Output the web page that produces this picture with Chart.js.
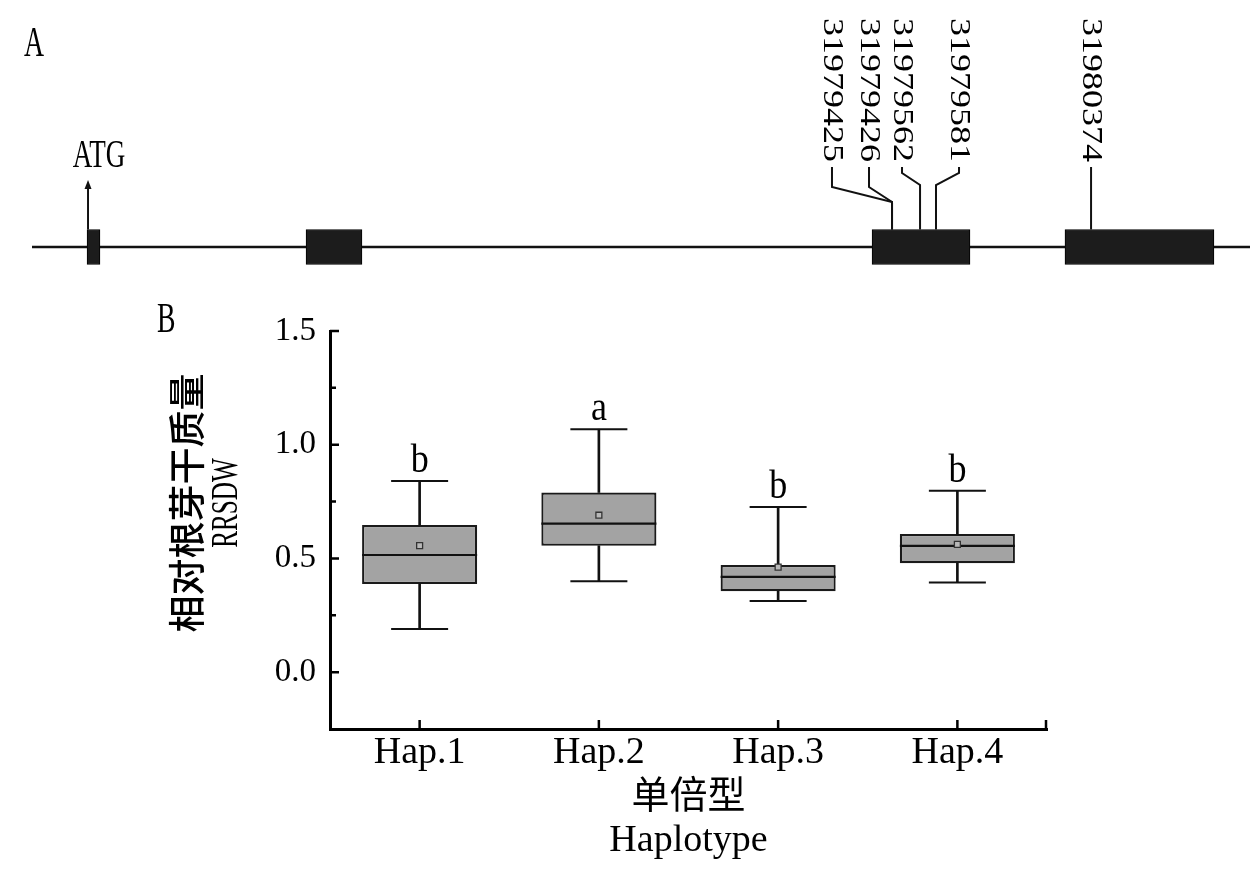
<!DOCTYPE html>
<html>
<head>
<meta charset="utf-8">
<title>RRSDW haplotypes</title>
<script src="https://cdn.jsdelivr.net/npm/chart.js@4.4.1/dist/chart.umd.min.js"></script>
<style>
  html, body { margin: 0; padding: 0; background: #fff; }
  #wrap { position: relative; width: 1260px; height: 880px; background: #fff; }
  #gene { position: absolute; left: 0; top: 0; }
  #box { position: absolute; left: 0; top: 290px; }
</style>
</head>
<body>
<div id="wrap">
  <canvas id="gene" width="1260" height="290"></canvas>
  <canvas id="box" width="1260" height="590"></canvas>
</div>
<script>
// ---- panel A: gene model (schematic units 0..1000) ----
var geneSpan = [0, 1000];
var exonStart = [45.2, 225.0, 689.7, 848.1];
var exonEnd = [55.8, 270.9, 770.1, 970.4];
var atgPos = 46;
var snpIds = ['31979425', '31979426', '31979562', '31979581', '31980374'];
var snpPos = [706.1, 706.1, 729.1, 742.2, 869.5];

// ---- panel B: box plot ----
var haplotypes = ['Hap.1', 'Hap.2', 'Hap.3', 'Hap.4'];
var whiskerLow = [0.19, 0.40, 0.313, 0.394];
var q1 = [0.388, 0.556, 0.356, 0.479];
var median = [0.515, 0.653, 0.419, 0.555];
var q3 = [0.647, 0.790, 0.471, 0.607];
var whiskerHigh = [0.840, 1.068, 0.726, 0.798];
var mean = [0.556, 0.690, 0.462, 0.562];
var groupLetters = ['b', 'a', 'b', 'b'];
var yTicks = [0.0, 0.5, 1.0, 1.5];
var yMinorTicks = [0.25, 0.75, 1.25];

// layout of the SNP labels (label slot in schematic units, elbow heights in px)
var snpLabelSlot = [656.8, 687.2, 714.3, 761.1, 869.5];
var snpElbow = [[202, 187], [202, 187], [185, 173], [185, 173], null];

var SERIF = "'Liberation Serif', 'Times New Roman', serif";
var CJK = "'Noto Sans CJK SC', sans-serif";

function squeezedText(ctx, text, x, y, angle, sx, sy, font, align, base)
{
    ctx.save();
    ctx.translate(x, y);
    ctx.rotate(angle);
    ctx.scale(sx, sy);
    ctx.font = font;
    ctx.fillStyle = '#000';
    ctx.textAlign = align;
    ctx.textBaseline = base;
    ctx.fillText(text, 0, 0);
    ctx.restore();
}

var genePlugin = {
    id: 'genePlugin',
    beforeDatasetsDraw: function(chart)
    {
        var ctx = chart.ctx;
        var xs = chart.scales.x, ys = chart.scales.y;
        var yc = ys.getPixelForValue(0);
        ctx.save();
        ctx.strokeStyle = '#111';
        ctx.lineWidth = 2.5;
        ctx.beginPath();
        ctx.moveTo(xs.getPixelForValue(geneSpan[0]), yc);
        ctx.lineTo(xs.getPixelForValue(geneSpan[1]), yc);
        ctx.stroke();
        ctx.restore();
    },
    afterDatasetsDraw: function(chart)
    {
        var ctx = chart.ctx;
        var xs = chart.scales.x, ys = chart.scales.y;
        var top = ys.getPixelForValue(0) - 17.5;
        ctx.save();
        ctx.strokeStyle = '#111';
        ctx.fillStyle = '#111';
        ctx.lineWidth = 2;

        // ATG arrow
        var ax = xs.getPixelForValue(atgPos);
        ctx.beginPath();
        ctx.moveTo(ax, top);
        ctx.lineTo(ax, 188);
        ctx.stroke();
        ctx.beginPath();
        ctx.moveTo(ax, 180);
        ctx.lineTo(ax - 3.5, 189);
        ctx.lineTo(ax + 3.5, 189);
        ctx.closePath();
        ctx.fill();
        squeezedText(ctx, 'ATG', ax + 11, 167, 0, 0.66, 1, '41px ' + SERIF, 'center', 'alphabetic');

        // SNP leader lines and labels
        for (var i = 0; i < snpIds.length; i++)
        {
            var mx = xs.getPixelForValue(snpPos[i]);
            var lx = xs.getPixelForValue(snpLabelSlot[i]);
            ctx.beginPath();
            ctx.moveTo(mx, top);
            if (snpElbow[i])
            {
                ctx.lineTo(mx, snpElbow[i][0]);
                ctx.lineTo(lx, snpElbow[i][1]);
            }
            ctx.lineTo(lx, 167);
            ctx.stroke();
            squeezedText(ctx, snpIds[i], lx, 162, Math.PI / 2, 1, 0.8, '36px ' + SERIF, 'right', 'middle');
        }
        ctx.restore();

        squeezedText(ctx, 'A', 24, 56, 0, 0.66, 1, '42px ' + SERIF, 'left', 'alphabetic');
    }
};

new Chart(document.getElementById('gene').getContext('2d'), {
    type: 'bar',
    data: {
        labels: ['gene'],
        datasets: [
            {
                label: 'exon',
                data: exonStart.map(function(s, i) { return { x: [s, exonEnd[i]], y: 'gene' }; }),
                backgroundColor: '#1c1c1c',
                borderColor: '#000',
                borderWidth: 1,
                borderSkipped: false,
                barThickness: 35,
                grouped: false
            }
        ]
    },
    options: {
        indexAxis: 'y',
        responsive: false,
        animation: false,
        events: [],
        layout: { autoPadding: false, padding: { left: 32, right: 10, top: 204, bottom: 0 } },
        scales: {
            x: { type: 'linear', min: geneSpan[0], max: geneSpan[1], display: false },
            y: { type: 'category', display: false }
        },
        plugins: { legend: { display: false }, tooltip: { enabled: false } }
    },
    plugins: [genePlugin]
});

var boxPlugin = {
    id: 'boxPlugin',
    afterDraw: function(chart)
    {
        var ctx = chart.ctx;
        var xs = chart.scales.x, ys = chart.scales.y;
        var area = chart.chartArea;
        ctx.save();
        ctx.strokeStyle = '#000';
        ctx.lineWidth = 2.5;
        ctx.beginPath();
        yTicks.forEach(function(v)
        {
            var py = ys.getPixelForValue(v);
            ctx.moveTo(area.left, py);
            ctx.lineTo(area.left + 9, py);
        });
        yMinorTicks.forEach(function(v)
        {
            var py = ys.getPixelForValue(v);
            ctx.moveTo(area.left, py);
            ctx.lineTo(area.left + 6, py);
        });
        haplotypes.forEach(function(h, i)
        {
            var px = xs.getPixelForValue(i);
            ctx.moveTo(px, area.bottom);
            ctx.lineTo(px, area.bottom - 9);
        });
        ctx.moveTo(area.right - 1, area.bottom);
        ctx.lineTo(area.right - 1, area.bottom - 9);
        ctx.stroke();
        ctx.restore();

        // significance letters
        groupLetters.forEach(function(t, i)
        {
            squeezedText(ctx, t, xs.getPixelForValue(i), ys.getPixelForValue(whiskerHigh[i]) - 9,
                0, 0.9, 1, '40px ' + SERIF, 'center', 'alphabetic');
        });

        // y axis title, two lines
        var cy = (area.top + area.bottom) / 2 - 27;
        squeezedText(ctx, '相对根芽干质量', area.left - 143, cy, -Math.PI / 2, 1, 1, '500 37px ' + CJK, 'center', 'middle');
        squeezedText(ctx, 'RRSDW', area.left - 103, cy, -Math.PI / 2, 0.68, 1, '37px ' + SERIF, 'center', 'middle');

        squeezedText(ctx, 'B', 157, 42, 0, 0.66, 1, '42px ' + SERIF, 'left', 'alphabetic');
    }
};

new Chart(document.getElementById('box').getContext('2d'), {
    type: 'bar',
    data: {
        labels: haplotypes,
        datasets: [
            {
                type: 'line', label: 'mean', data: mean, showLine: false,
                pointStyle: 'rect', pointRadius: 4.2, pointBackgroundColor: '#b8b8b8',
                pointBorderColor: '#333', pointBorderWidth: 1.3
            },
            {
                type: 'line', label: 'median', data: median, showLine: false,
                pointStyle: 'line', pointRadius: 57.5, pointBorderColor: '#111', pointBorderWidth: 2.2
            },
            {
                type: 'line', label: 'max', data: whiskerHigh, showLine: false,
                pointStyle: 'line', pointRadius: 28.5, pointBorderColor: '#111', pointBorderWidth: 2
            },
            {
                type: 'line', label: 'min', data: whiskerLow, showLine: false,
                pointStyle: 'line', pointRadius: 28.5, pointBorderColor: '#111', pointBorderWidth: 2
            },
            {
                label: 'upper whisker', data: q3.map(function(v, i) { return [v, whiskerHigh[i]]; }),
                backgroundColor: '#111', borderWidth: 0, barThickness: 2, grouped: false
            },
            {
                label: 'lower whisker', data: q1.map(function(v, i) { return [whiskerLow[i], v]; }),
                backgroundColor: '#111', borderWidth: 0, barThickness: 2, grouped: false
            },
            {
                label: 'IQR', data: q1.map(function(v, i) { return [v, q3[i]]; }),
                backgroundColor: '#a3a3a3', borderColor: '#1a1a1a', borderWidth: 2.2,
                borderSkipped: false, barPercentage: 0.642, categoryPercentage: 1, grouped: false
            }
        ]
    },
    options: {
        responsive: false,
        animation: false,
        events: [],
        layout: { autoPadding: false, padding: { left: 240, right: 213, top: 41, bottom: 0 } },
        scales: {
            x: {
                type: 'category',
                offset: true,
                grid: { display: false, drawTicks: false },
                border: { display: true, color: '#000', width: 3 },
                ticks: { color: '#000', padding: 1, font: { family: SERIF, size: 38 } },
                title: {
                    display: true,
                    text: ['单倍型', 'Haplotype'],
                    color: '#000',
                    font: { family: SERIF + ", " + CJK, size: 38, lineHeight: 1.13 },
                    padding: { top: 0, bottom: 18 }
                },
                afterFit: function(s) { s.height = 151; }
            },
            y: {
                type: 'linear',
                min: -0.25,
                max: 1.5,
                grid: { display: false, drawTicks: false },
                border: { display: true, color: '#000', width: 3 },
                afterBuildTicks: function(s) { s.ticks = yTicks.map(function(v) { return { value: v }; }); },
                ticks: {
                    color: '#000', padding: 14, font: { family: SERIF, size: 33 },
                    callback: function(v) { return Number(v).toFixed(1); }
                },
                afterFit: function(s) { s.width = 90; }
            }
        },
        plugins: { legend: { display: false }, tooltip: { enabled: false } }
    },
    plugins: [boxPlugin]
});
</script>
</body>
</html>
